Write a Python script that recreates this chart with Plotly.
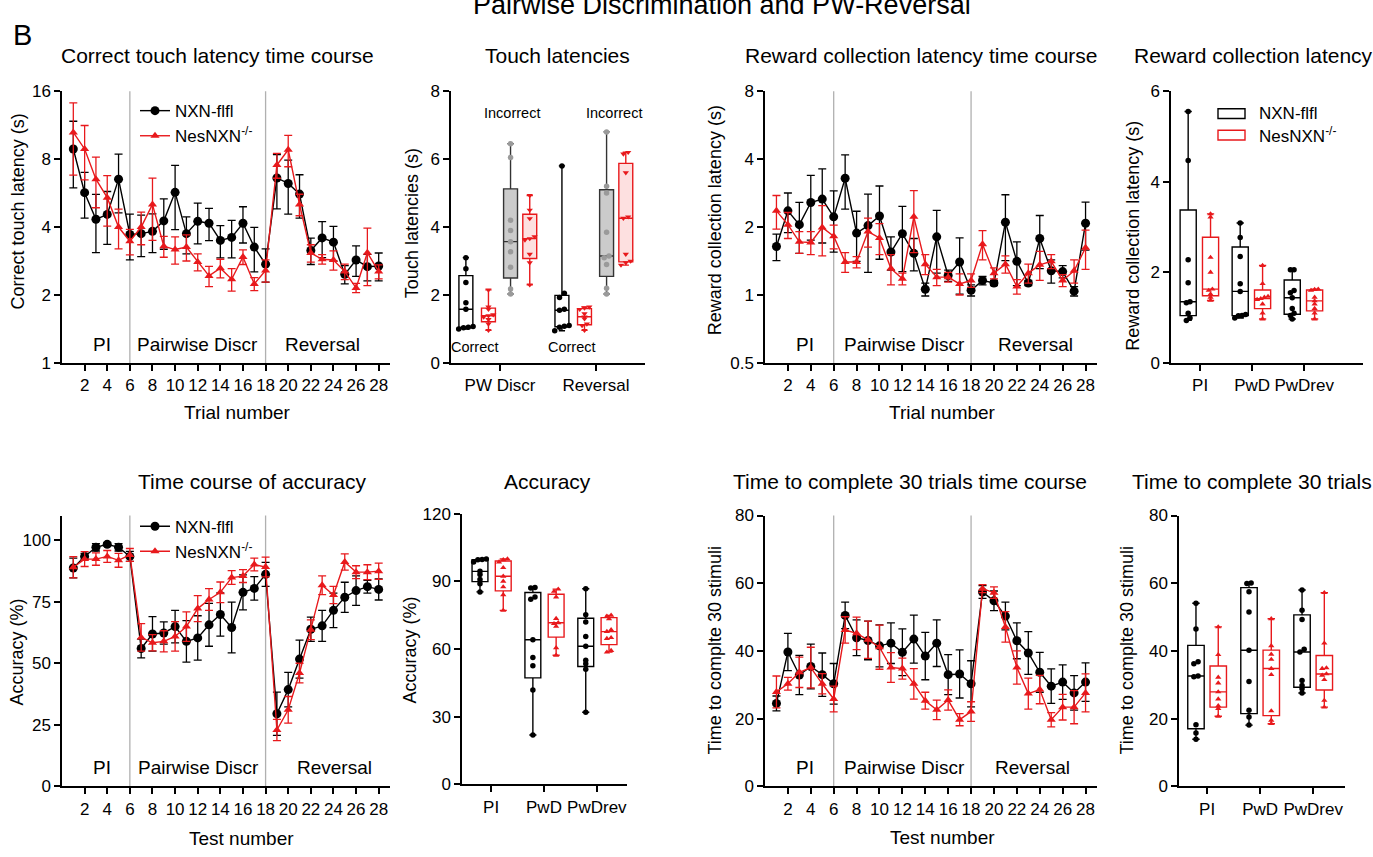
import numpy as np
import plotly.graph_objects as go

W, H = 1373, 857
BLACK = '#000000'
RED = '#e8191c'
GRAY_PT = '#9a9a9a'
FONT = 'Liberation Sans, Arial, sans-serif'
NARROW = 'Liberation Sans Narrow, Arial Narrow, Liberation Sans, sans-serif'

# ---------------- time-course data (mean, SEM) ----------------
trials = list(range(1, 29))
touch_ctrl = [8.87, 5.68, 4.33, 4.55, 6.52, 3.71, 3.74, 3.83, 4.26, 5.70, 3.74, 4.24, 4.16, 3.49,
              3.60, 4.16, 3.26, 2.74, 6.60, 6.24, 5.60, 3.15, 3.58, 3.43, 2.47, 2.86, 2.67, 2.69]
touch_ctrl_sem = [2.9, 1.3, 1.25, 1.2, 1.9, 0.85, 0.78, 0.75, 1.07, 1.8, 0.7, 0.87, 0.68, 0.57,
                  0.68, 0.76, 0.73, 0.46, 1.78, 1.68, 1.22, 0.42, 0.65, 0.6, 0.23, 0.44, 0.36, 0.38]
touch_ko = [10.5, 8.87, 6.52, 5.40, 4.00, 3.46, 4.00, 5.04, 3.29, 3.18, 3.26, 2.80, 2.43, 2.63,
            2.35, 2.95, 2.24, 2.57, 7.53, 8.80, 5.04, 3.07, 2.88, 2.86, 2.54, 2.15, 3.08, 2.54]
touch_ko_sem = [3.7, 2.4, 1.65, 1.36, 0.8, 0.45, 0.66, 1.55, 0.35, 0.44, 0.43, 0.24, 0.25, 0.25,
                0.27, 0.22, 0.15, 0.29, 0.95, 1.4, 0.55, 0.27, 0.14, 0.28, 0.2, 0.1, 0.88, 0.18]

reward_ctrl = [1.64, 2.36, 2.05, 2.57, 2.66, 2.22, 3.29, 1.88, 2.03, 2.24, 1.55, 1.87, 1.53, 1.06,
               1.81, 1.22, 1.40, 1.05, 1.16, 1.13, 2.10, 1.41, 1.13, 1.78, 1.28, 1.27, 1.04, 2.08]
reward_ctrl_sem = [0.22, 0.47, 0.52, 0.82, 0.96, 0.67, 0.89, 0.47, 0.77, 0.8, 0.26, 0.6, 0.25, 0.07,
                   0.56, 0.07, 0.39, 0.06, 0.05, 0.03, 0.68, 0.31, 0.03, 0.47, 0.15, 0.08, 0.05, 0.5]
reward_ko = [2.36, 2.05, 1.72, 1.71, 1.99, 1.82, 1.40, 1.40, 1.91, 1.79, 1.31, 1.18, 2.22, 1.37,
             1.20, 1.20, 1.12, 1.16, 1.68, 1.25, 1.37, 1.09, 1.25, 1.36, 1.41, 1.16, 1.28, 1.62]
reward_ko_sem = [0.4, 0.27, 0.19, 0.2, 0.5, 0.22, 0.14, 0.08, 0.28, 0.28, 0.2, 0.07, 0.68, 0.14,
                 0.1, 0.06, 0.12, 0.08, 0.25, 0.07, 0.12, 0.08, 0.12, 0.2, 0.1, 0.07, 0.15, 0.32]

acc_ctrl = [88.7, 93.4, 97.1, 98.3, 97.1, 93.4, 56.0, 61.9, 62.3, 64.9, 58.9, 60.3, 65.6, 69.8,
            64.5, 78.8, 80.4, 86.1, 29.5, 39.3, 51.7, 63.8, 65.2, 71.5, 76.8, 79.5, 81.1, 80.0]
acc_ctrl_sem = [4.0, 1.2, 1.5, 0.7, 1.5, 2.0, 3.8, 7.0, 4.5, 6.6, 8.4, 9.0, 8.7, 8.8,
                10.3, 7.1, 4.8, 4.9, 8.8, 7.0, 7.7, 4.9, 6.3, 7.0, 6.1, 6.0, 2.6, 4.3]
acc_ko = [89.0, 92.3, 92.3, 93.4, 91.8, 94.0, 60.5, 58.3, 58.9, 60.9, 64.9, 72.2, 75.9, 78.8,
          84.8, 85.4, 90.1, 89.1, 22.9, 31.1, 46.0, 63.6, 81.7, 77.7, 91.1, 87.0, 87.0, 87.4]
acc_ko_sem = [4.3, 3.0, 2.5, 2.4, 2.8, 2.6, 5.6, 3.3, 4.3, 6.0, 6.0, 5.3, 4.4, 4.2,
              2.8, 2.6, 2.6, 4.0, 4.3, 5.4, 4.0, 4.0, 3.8, 3.5, 3.3, 2.6, 3.0, 3.3]

time_ctrl = [24.5, 39.7, 32.9, 35.4, 33.0, 30.3, 50.5, 43.9, 43.1, 41.5, 42.3, 39.6, 43.5, 38.5,
             42.3, 33.0, 33.2, 30.3, 57.4, 54.8, 50.3, 43.0, 39.4, 33.7, 29.6, 30.8, 27.6, 30.8]
time_ctrl_sem = [2.2, 5.5, 5.8, 6.6, 6.4, 6.0, 3.9, 5.3, 5.7, 6.2, 6.0, 6.9, 7.1, 7.0,
                 6.9, 5.9, 7.1, 6.8, 1.9, 2.9, 4.1, 5.3, 6.3, 5.9, 5.1, 5.1, 5.1, 5.7]
time_ko = [27.9, 30.3, 33.7, 35.1, 30.3, 25.8, 46.2, 45.2, 43.3, 41.1, 35.1, 34.8, 30.3, 25.3,
           22.6, 25.5, 19.7, 22.1, 58.4, 57.2, 47.1, 35.1, 27.4, 28.6, 19.7, 23.4, 23.4, 27.6]
time_ko_sem = [4.7, 1.9, 4.5, 6.0, 3.0, 3.8, 3.9, 4.8, 5.5, 6.5, 4.4, 3.1, 4.5, 2.5,
               2.9, 3.0, 1.8, 2.9, 1.2, 1.7, 4.5, 4.9, 4.6, 4.2, 2.1, 3.8, 4.9, 5.6]

# ---------------- individual-animal data for box plots ----------------
touch_groups = ['PW Discr', 'Reversal']
touch_correct_ctrl = [[3.1, 2.77, 2.37, 1.77, 1.58, 1.07, 1.05, 1.04, 1.0],
                      [5.8, 2.05, 1.93, 1.58, 1.55, 1.1, 1.08, 1.05, 0.95]]
touch_correct_ko = [[2.15, 1.65, 1.58, 1.42, 1.39, 1.35, 1.28, 1.15, 0.96],
                    [1.65, 1.62, 1.58, 1.45, 1.36, 1.3, 1.15, 1.1, 0.96]]
touch_incorrect_ctrl = [[6.45, 6.05, 4.2, 3.9, 3.57, 3.27, 2.82, 2.18, 2.03],
                        [6.8, 5.2, 5.0, 3.85, 3.15, 3.1, 2.9, 2.2, 2.03]]
touch_incorrect_ko = [[4.93, 4.5, 4.25, 3.72, 3.66, 3.62, 3.2, 2.95, 2.3],
                      [6.2, 6.15, 5.6, 4.3, 4.26, 3.2, 3.0, 2.95, 2.88]]

phase_labels = ['PI', 'PwD', 'PwDrev']
reward_box_ctrl = [[5.55, 4.47, 2.28, 1.77, 1.35, 1.33, 1.1, 0.99, 0.94],
                   [3.09, 2.77, 2.35, 1.75, 1.58, 1.07, 1.05, 1.04, 0.99],
                   [2.06, 2.06, 1.6, 1.55, 1.44, 1.2, 1.1, 1.05, 0.97]]
reward_box_ko = [[3.29, 3.22, 2.33, 2.0, 1.63, 1.6, 1.52, 1.45, 1.38],
                 [2.15, 1.75, 1.47, 1.45, 1.42, 1.4, 1.3, 1.1, 0.97],
                 [1.63, 1.62, 1.6, 1.45, 1.37, 1.3, 1.2, 1.1, 0.97]]
acc_box_ctrl = [[99.9, 99.7, 99.5, 98.5, 94.4, 93.0, 90.8, 88.9, 85.3],
                [87.2, 87.0, 83.0, 82.0, 64.1, 56.2, 52.6, 41.8, 21.9],
                [86.7, 75.2, 72.0, 65.5, 61.2, 55.0, 53.5, 51.0, 32.0]]
acc_box_ko = [[99.9, 99.5, 98.5, 96.0, 92.2, 90.0, 87.5, 84.0, 77.1],
              [86.5, 85.5, 83.0, 73.5, 71.6, 71.2, 70.0, 60.5, 57.2],
              [74.9, 74.5, 73.3, 68.5, 67.7, 65.0, 64.6, 59.3, 58.6]]
time_box_ctrl = [[54.1, 46.5, 36.8, 36.2, 32.6, 32.4, 18.2, 15.8, 13.9],
                 [60.1, 59.9, 57.5, 51.5, 40.2, 31.0, 22.5, 20.5, 18.1],
                 [58.0, 52.0, 49.3, 40.5, 39.7, 31.3, 29.8, 28.8, 27.6]]
time_box_ko = [[47.1, 38.9, 32.2, 30.5, 27.9, 25.8, 23.8, 23.0, 20.7],
               [49.5, 41.5, 39.0, 37.5, 34.8, 33.0, 22.3, 19.5, 18.5],
               [57.2, 42.3, 35.0, 34.8, 33.2, 32.8, 31.5, 25.4, 23.4]]

CTRL_NAME = 'NXN-flfl'
KO_NAME = 'NesNXN<sup>-/-</sup>'

# ---------------- layout helpers ----------------
# panel pixel boxes: (left, right, top, bottom)
panels = {
    1: (62, 390, 84, 362),
    2: (451, 645, 84, 362),
    3: (765, 1097, 84, 362),
    4: (1171, 1363, 84, 362),
    5: (62, 390, 518, 795),
    6: (462, 627, 516, 793),
    7: (765, 1097, 518, 795),
    8: (1179, 1345, 518, 795),
}

fig = go.Figure()
layout = dict(width=W, height=H, margin=dict(l=0, r=0, t=0, b=0),
              paper_bgcolor='white', plot_bgcolor='white', showlegend=True,
              font=dict(family=FONT, color=BLACK, size=17), boxmode='overlay')

TICKSIZE = 17
axis_common = dict(showline=True, linecolor=BLACK, linewidth=1.5, ticks='outside', ticklen=6,
                   tickwidth=1.5, tickcolor=BLACK, showgrid=False, zeroline=False,
                   tickfont=dict(family=FONT, size=TICKSIZE, color=BLACK), fixedrange=True)

def set_axes(n, xrange, yrange, xtickvals, xticktext, ytickvals, yticktext, ylog=False):
    l, r, t, b = panels[n]
    xa = dict(axis_common, domain=[l / W, r / W], range=xrange, type='linear',
              tickvals=xtickvals, ticktext=xticktext, anchor=f'y{n}')
    ya = dict(axis_common, domain=[1 - b / H, 1 - t / H], range=yrange,
              type='log' if ylog else 'linear', tickvals=ytickvals, ticktext=yticktext,
              anchor=f'x{n}')
    layout[f'xaxis{n}' if n > 1 else 'xaxis'] = xa
    layout[f'yaxis{n}' if n > 1 else 'yaxis'] = ya

xt = list(range(2, 29, 2))
xtt = [str(v) for v in xt]
set_axes(1, [0, 29], [0, np.log10(16)], xt, xtt, [1, 2, 4, 8, 16], ['1', '2', '4', '8', '16'], ylog=True)
set_axes(3, [0, 29], [np.log10(0.5), np.log10(8)], xt, xtt, [0.5, 1, 2, 4, 8], ['0.5', '1', '2', '4', '8'], ylog=True)
set_axes(5, [0, 29], [0, 110], xt, xtt, [0, 25, 50, 75, 100], ['0', '25', '50', '75', '100'])
set_axes(7, [0, 29], [0, 80], xt, xtt, [0, 20, 40, 60, 80], ['0', '20', '40', '60', '80'])
set_axes(2, [0.49, 2.51], [0, 8], [1, 2], touch_groups, [0, 2, 4, 6, 8], ['0', '2', '4', '6', '8'])
set_axes(4, [0.44, 4.13], [0, 6], [1, 2, 3], phase_labels, [0, 2, 4, 6], ['0', '2', '4', '6'])
set_axes(6, [0.45, 3.57], [0, 120], [1, 2, 3], phase_labels, [0, 30, 60, 90, 120], ['0', '30', '60', '90', '120'])
set_axes(8, [0.47, 3.6], [0, 80], [1, 2, 3], phase_labels, [0, 20, 40, 60, 80], ['0', '20', '40', '60', '80'])

def axref(n):
    return ('x' if n == 1 else f'x{n}'), ('y' if n == 1 else f'y{n}')

# ---------------- time-course traces ----------------
def add_course(n, y, sem, color, symbol, size, name, legend, showlegend):
    xr, yr = axref(n)
    fig.add_trace(go.Scatter(
        x=trials, y=y, mode='lines+markers', name=name, legend=legend, showlegend=showlegend,
        line=dict(color=color, width=1.4),
        marker=dict(symbol=symbol, size=size, color=color, line=dict(width=0)),
        error_y=dict(type='data', array=sem, visible=True, color=color, thickness=1.3, width=4),
        xaxis=xr, yaxis=yr, hoverinfo='skip'))

course_sets = [
    (1, touch_ctrl, touch_ctrl_sem, touch_ko, touch_ko_sem, 'legend', True),
    (3, reward_ctrl, reward_ctrl_sem, reward_ko, reward_ko_sem, 'legend', False),
    (5, acc_ctrl, acc_ctrl_sem, acc_ko, acc_ko_sem, 'legend2', True),
    (7, time_ctrl, time_ctrl_sem, time_ko, time_ko_sem, 'legend2', False),
]
for n, yc, sc, yk, sk, lg, sl in course_sets:
    add_course(n, yc, sc, BLACK, 'circle', 9, CTRL_NAME, lg, sl)
    add_course(n, yk, sk, RED, 'triangle-up', 8, KO_NAME, lg, sl)

# ---------------- box traces ----------------
def spread(vals, center, thr, dx):
    vals = np.asarray(vals, float)
    order = np.argsort(vals)
    xs = np.full(len(vals), float(center))
    groups, cur = [], [order[0]]
    for i in order[1:]:
        if vals[i] - vals[cur[-1]] < thr:
            cur.append(i)
        else:
            groups.append(cur)
            cur = [i]
    groups.append(cur)
    for g in groups:
        k = len(g)
        for j, idx in enumerate(g):
            xs[idx] = center + (j - (k - 1) / 2) * dx
    return xs

def add_box(n, pos, vals, line_color, fill, width, pt_color, symbol, pt_size, thr, dx):
    xr, yr = axref(n)
    q1, med, q3 = np.percentile(vals, [25, 50, 75], method='weibull')
    fig.add_trace(go.Box(
        x=[pos], q1=[q1], median=[med], q3=[q3], lowerfence=[min(vals)], upperfence=[max(vals)],
        width=width, whiskerwidth=0.45, boxpoints=False, fillcolor=fill,
        line=dict(color=line_color, width=1.4), showlegend=False, name='',
        xaxis=xr, yaxis=yr, hoverinfo='skip'))
    xs = spread(vals, pos, thr, dx)
    fig.add_trace(go.Scatter(
        x=xs, y=vals, mode='markers', showlegend=False,
        marker=dict(symbol=symbol, size=pt_size, color=pt_color, line=dict(width=0)),
        xaxis=xr, yaxis=yr, hoverinfo='skip'))

# Touch latencies (panel 2)
for i in range(2):
    c = i + 1
    add_box(2, c - 0.355, touch_correct_ctrl[i], BLACK, 'rgba(255,255,255,0)', 0.145, BLACK,
            'circle', 5.5, 0.12, 0.05)
    add_box(2, c - 0.12, touch_correct_ko[i], RED, 'rgba(255,255,255,0)', 0.145, RED,
            'triangle-down', 5.5, 0.06, 0.05)
    add_box(2, c + 0.11, touch_incorrect_ctrl[i], '#333333', '#cbcbcb', 0.145, GRAY_PT,
            'circle', 5.5, 0.12, 0.05)
    add_box(2, c + 0.31, touch_incorrect_ko[i], RED, '#fde0e0', 0.145, RED,
            'triangle-down', 5.5, 0.12, 0.05)

box_sets = [
    (4, reward_box_ctrl, reward_box_ko, 0.31, -0.23, 0.20, 0.06, 0.07),
    (6, acc_box_ctrl, acc_box_ko, 0.30, -0.21, 0.23, 1.2, 0.08),
    (8, time_box_ctrl, time_box_ko, 0.31, -0.21, 0.21, 0.8, 0.08),
]
for n, ctrl, ko, w, oc, ok, thr, dx in box_sets:
    for i in range(3):
        add_box(n, i + 1 + oc, ctrl[i], BLACK, 'rgba(255,255,255,0)', w, BLACK, 'circle', 5.5, thr, dx)
        add_box(n, i + 1 + ok, ko[i], RED, 'rgba(255,255,255,0)', w, RED, 'triangle-up', 5.5, thr, dx)

# ---------------- shapes: phase separators ----------------
shapes = []
for n in (1, 3, 5, 7):
    xr, yr = axref(n)
    for xv in (6, 18):
        shapes.append(dict(type='line', xref=xr, yref=f'{yr} domain', x0=xv, x1=xv, y0=0, y1=1,
                           line=dict(color='#b0b0b0', width=1.3), layer='below'))

def px(x):
    return x / W
def py(y):
    return 1 - y / H

# legend box icons for the reward-latency box panel
for (yc, col) in ((107, BLACK), (129, RED)):
    shapes.append(dict(type='rect', xref='paper', yref='paper', x0=px(1218), x1=px(1245),
                       y0=py(yc + 5), y1=py(yc - 5), line=dict(color=col, width=1.4),
                       fillcolor='rgba(0,0,0,0)'))

# ---------------- annotations ----------------
ann = []
def text(x, y, s, size=17, family=FONT, angle=0, xanchor='center', yanchor='middle'):
    ann.append(dict(x=px(x), y=py(y), xref='paper', yref='paper', text=s, showarrow=False,
                    font=dict(family=family, size=size, color=BLACK), textangle=angle,
                    xanchor=xanchor, yanchor=yanchor))

text(722, -4, 'Pairwise Discrimination and PW-Reversal', size=27, family=NARROW)
text(23, 27, 'B', size=29, family=NARROW)

titles = [
    (217, 48, 'Correct touch latency time course'),
    (557, 48, 'Touch latencies'),
    (921, 48, 'Reward collection latency time course'),
    (1253, 48, 'Reward collection latency'),
    (252, 483, 'Time course of accuracy'),
    (547, 483, 'Accuracy'),
    (910, 483, 'Time to complete 30 trials time course'),
    (1252, 483, 'Time to complete 30 trials'),
]
for x, y, s in titles:
    text(x, y, s, size=21)

ytitles = [
    (18, 207, 'Correct touch latency (s)'),
    (412, 219, 'Touch latencies (s)'),
    (715, 216, 'Reward collection latency (s)'),
    (1133, 232, 'Reward collection latency (s)'),
    (17, 658, 'Accuracy (%)'),
    (410, 656, 'Accuracy (%)'),
    (715, 656, 'Time to complte 30 stimuli'),
    (1127, 656, 'Time to complte 30 stimuli'),
]
for x, y, s in ytitles:
    text(x, y, s, size=18, angle=-90)

xtitles = [(237, 413, 'Trial number'), (943, 413, 'Trial number'),
           (241, 848, 'Test number'), (943, 847, 'Test number')]
for x, y, s in xtitles:
    text(x, y, s, size=19)

# phase labels inside time-course panels
phase_pos = {1: (3.5, 12.0, 23.0), 3: (3.5, 12.2, 23.6), 5: (3.5, 12.1, 24.1), 7: (3.5, 12.2, 23.4)}
for n, xs in phase_pos.items():
    xr, yr = axref(n)
    for xv, s in zip(xs, ['PI', 'Pairwise Discr', 'Reversal']):
        ann.append(dict(x=xv, y=0.068, xref=xr, yref=f'{yr} domain', text=s, showarrow=False,
                        font=dict(family=FONT, size=19, color=BLACK), xanchor='center',
                        yanchor='middle'))

# Correct / Incorrect labels in touch-latency panel
for x, y, s in [(512, 106, 'Incorrect'), (614, 106, 'Incorrect'),
                (475, 346, 'Correct'), (572, 346, 'Correct')]:
    text(x, y, s, size=14.5, family=NARROW)

# box legend text
text(1257, 107, CTRL_NAME, size=17, xanchor='left')
text(1257, 129, KO_NAME, size=17, xanchor='left')

layout['annotations'] = ann
layout['shapes'] = shapes
leg_common = dict(xanchor='left', yanchor='top', bgcolor='rgba(0,0,0,0)', borderwidth=0,
                  font=dict(family=FONT, size=17, color=BLACK), itemwidth=30, tracegroupgap=0)
layout['legend'] = dict(leg_common, x=px(135), y=py(86))
layout['legend2'] = dict(leg_common, x=px(135), y=py(511))

fig.update_layout(**layout)
fig.write_html('out.html')
